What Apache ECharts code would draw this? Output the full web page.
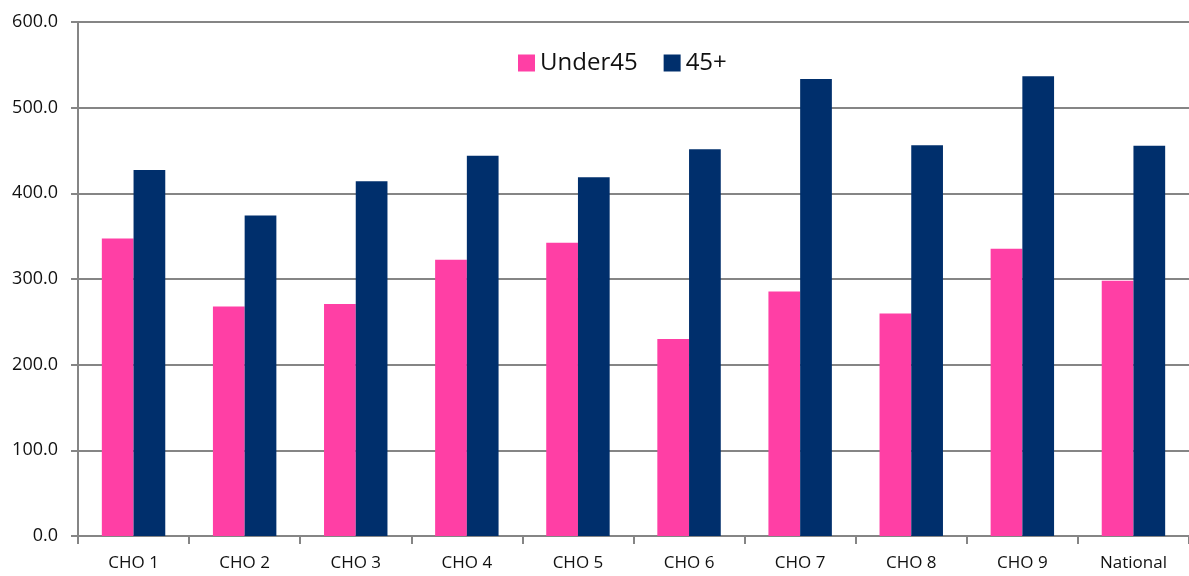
<!DOCTYPE html>
<html>
<head>
<meta charset="utf-8">
<script src="https://cdn.jsdelivr.net/npm/echarts@6/dist/echarts.min.js"></script>
<style>
  html, body { margin: 0; padding: 0; background: #fff; }
  #chart { width: 1189px; height: 576px; }
</style>
</head>
<body>
<div id="chart"></div>
<script>
// categories and values
const categories = ['CHO 1', 'CHO 2', 'CHO 3', 'CHO 4', 'CHO 5', 'CHO 6', 'CHO 7', 'CHO 8', 'CHO 9', 'National'];
const under45 = [347.3, 267.9, 270.7, 322.4, 342.2, 229.9, 285.4, 259.6, 335.2, 297.9];
const over45 = [427.1, 374.1, 414.2, 443.8, 418.9, 451.6, 533.6, 456.2, 536.8, 455.4];
const seriesNames = ['Under45', '45+'];

const font = '"Open Sans", "Noto Sans", sans-serif';
const gray = '#858585';

let myChart = echarts.init(document.getElementById('chart'));
let option = {
    backgroundColor: '#ffffff',
    animation: false,
    textStyle: { fontFamily: font },
    legend: {
        left: 513,
        top: 46,
        itemWidth: 17,
        itemHeight: 17,
        itemGap: 26,
        icon: 'rect',
        textStyle: {
            color: '#111',
            fontSize: 24,
            fontFamily: font,
        },
        data: seriesNames,
    },
    grid: {
        left: 78,
        right: -11,
        top: 22,
        bottom: 40,
        containLabel: false,
    },
    xAxis: {
        type: 'category',
        data: categories,
        axisLine: { lineStyle: { color: gray, width: 2 } },
        axisTick: { show: true, length: 8, lineStyle: { color: gray, width: 2 } },
        axisLabel: {
            margin: 19,
            color: '#111',
            fontSize: 17,
            fontFamily: font,
            interval: 0,
        },
    },
    yAxis: {
        type: 'value',
        min: 0,
        max: 600,
        interval: 100,
        axisLine: { show: true, lineStyle: { color: gray, width: 2 } },
        axisTick: { show: true, length: 7, lineStyle: { color: gray, width: 2 } },
        axisLabel: {
            margin: 20,
            color: '#111',
            fontSize: 18,
            fontFamily: font,
            formatter: v => v.toFixed(1),
        },
        splitLine: { show: true, lineStyle: { color: gray, width: 2 } },
    },
    series: [
        {
            name: seriesNames[0],
            type: 'bar',
            barGap: '0%',
            barCategoryGap: '42.9%',
            itemStyle: { color: '#ff3fa5' },
            data: under45,
        },
        {
            name: seriesNames[1],
            type: 'bar',
            barGap: '0%',
            barCategoryGap: '42.9%',
            itemStyle: { color: '#002f6c' },
            data: over45,
        },
    ],
};
option && myChart.setOption(option);
</script>
</body>
</html>
